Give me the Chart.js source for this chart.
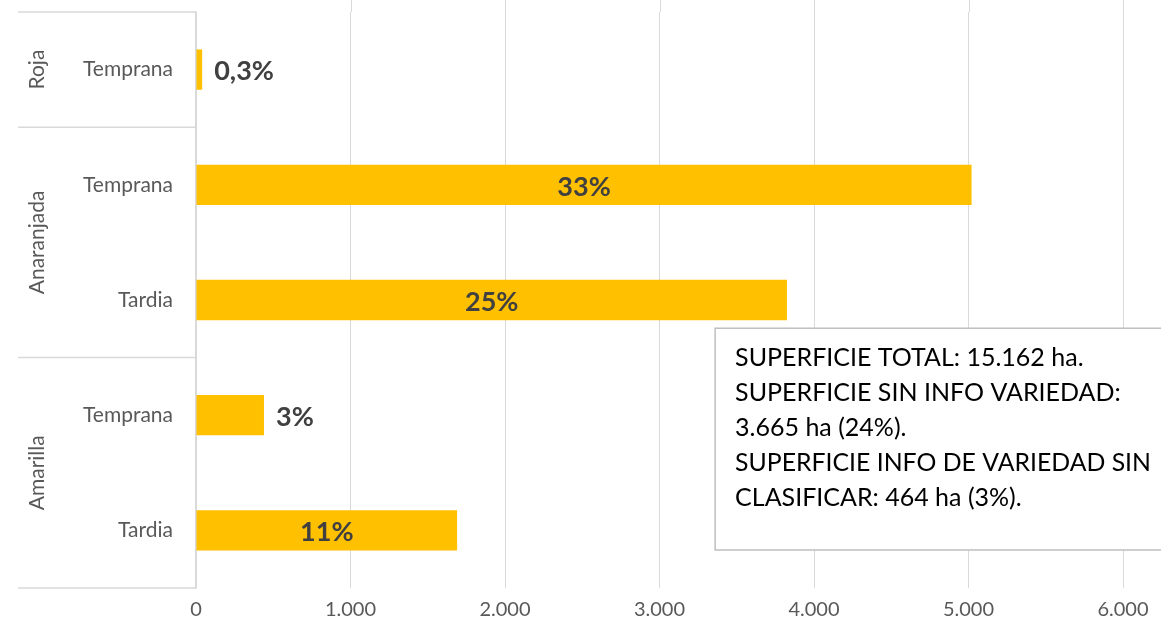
<!DOCTYPE html>
<html><head><meta charset="utf-8">
<script src="https://cdn.jsdelivr.net/npm/chart.js@4/dist/chart.umd.min.js"></script>
<style>html,body{margin:0;padding:0;background:#fff;} #wrap{width:1161px;height:629px;position:relative;}</style>
</head><body><div id="wrap"><canvas id="c"></canvas></div>
<script>
const categories = ["Temprana", "Temprana", "Tardia", "Temprana", "Tardia"];
const groups = ["Roja", "Anaranjada", "Anaranjada", "Amarilla", "Amarilla"];
const superficie = [40, 5020, 3825, 440, 1690];
const percentLabels = ["0,3%", "33%", "25%", "3%", "11%"];
const xMin = 0, xMax = 6000, xStep = 1000;
const noteLines = [
  "SUPERFICIE TOTAL: 15.162 ha.",
  "SUPERFICIE SIN INFO VARIEDAD:",
  "3.665 ha (24%).",
  "SUPERFICIE INFO DE VARIEDAD SIN",
  "CLASIFICAR: 464 ha (3%)."
];

const GRID = '#d9d9d9';
const TXT = '#595959';
const FONT = 'Lato, "Open Sans", sans-serif';

function fmt(v) { return String(v).replace(/\B(?=(\d{3})+(?!\d))/g, '.'); }

const groupAxis = {
  id: 'groupAxis',
  afterDraw(chart) {
    const ctx = chart.ctx, y = chart.scales.y, ca = chart.chartArea;
    const n = categories.length;
    const band = (y.bottom - y.top) / n;
    ctx.save();
    ctx.strokeStyle = GRID; ctx.lineWidth = 1.5;
    let i = 0;
    while (i < n) {
      let j = i;
      while (j + 1 < n && groups[j + 1] === groups[i]) j++;
      const top = y.getPixelForValue(i) - band / 2;
      const bot = y.getPixelForValue(j) + band / 2;
      ctx.beginPath(); ctx.moveTo(18, top); ctx.lineTo(ca.left, top); ctx.stroke();
      if (j === n - 1) { ctx.beginPath(); ctx.moveTo(18, bot); ctx.lineTo(ca.left, bot); ctx.stroke(); }
      ctx.save();
      ctx.translate(37, (top + bot) / 2);
      ctx.rotate(-Math.PI / 2);
      ctx.fillStyle = TXT; ctx.font = '21px ' + FONT;
      ctx.textAlign = 'center'; ctx.textBaseline = 'middle';
      ctx.fillText(groups[i], 0, 0);
      ctx.restore();
      i = j + 1;
    }
    ctx.restore();
  },
  beforeDatasetsDraw(chart) {
    const ctx = chart.ctx, x = chart.scales.x, ca = chart.chartArea;
    ctx.save();
    ctx.strokeStyle = GRID; ctx.lineWidth = 1;
    x.ticks.forEach(t => {
      if (t.value <= xMin) return;
      const px = Math.round(x.getPixelForValue(t.value)) + 0.5;
      ctx.beginPath(); ctx.moveTo(px, 0); ctx.lineTo(px, ca.top); ctx.stroke();
    });
    ctx.restore();
  }
};

const barLabels = {
  id: 'barLabels',
  afterDatasetsDraw(chart) {
    const ctx = chart.ctx;
    const meta = chart.getDatasetMeta(0);
    ctx.save();
    ctx.fillStyle = '#404040';
    ctx.font = 'bold 27px ' + FONT;
    ctx.textBaseline = 'middle';
    meta.data.forEach((el, i) => {
      const w = el.x - el.base;
      if (w > 150) {
        ctx.textAlign = 'center';
        ctx.fillText(percentLabels[i], (el.x + el.base) / 2, el.y + 2);
      } else {
        ctx.textAlign = 'left';
        ctx.fillText(percentLabels[i], el.x + 12, el.y + 2);
      }
    });
    ctx.restore();
  }
};

const noteBox = {
  id: 'noteBox',
  afterDraw(chart) {
    const ctx = chart.ctx, ca = chart.chartArea;
    const left = ca.left + 0.56 * (ca.right - ca.left);
    const top = ca.top + 0.549 * (ca.bottom - ca.top);
    const bottom = ca.top + 0.934 * (ca.bottom - ca.top);
    const right = chart.width + 5;
    ctx.save();
    ctx.fillStyle = '#ffffff';
    ctx.fillRect(left, top, right - left, bottom - top);
    ctx.strokeStyle = '#bfbfbf'; ctx.lineWidth = 1.5;
    ctx.strokeRect(left, top, right - left, bottom - top);
    ctx.fillStyle = '#000000';
    ctx.font = '25px ' + FONT;
    ctx.textAlign = 'left'; ctx.textBaseline = 'alphabetic';
    noteLines.forEach((line, k) => {
      ctx.fillText(line, left + 20, top + 38 + k * 35, chart.width - left - 30);
    });
    ctx.restore();
  }
};

new Chart(document.getElementById('c'), {
  type: 'bar',
  data: {
    labels: categories,
    datasets: [{
      data: superficie,
      backgroundColor: '#FFC000',
      borderWidth: 0,
      barPercentage: 0.35,
      categoryPercentage: 1.0
    }]
  },
  options: {
    indexAxis: 'y',
    responsive: true,
    maintainAspectRatio: false,
    animation: false,
    layout: { padding: { top: 12, right: 38, left: 0, bottom: 0 } },
    plugins: { legend: { display: false }, tooltip: { enabled: false } },
    scales: {
      x: {
        type: 'linear', min: xMin, max: xMax,
        ticks: { stepSize: xStep, callback: v => fmt(v), color: TXT, font: { family: FONT, size: 20 }, padding: 10 },
        grid: { color: GRID, drawTicks: false, lineWidth: 1 },
        border: { display: false },
        afterFit(s) { s.height = 41; s.paddingLeft = 0; s.paddingRight = 0; }
      },
      y: {
        type: 'category',
        ticks: { color: TXT, font: { family: FONT, size: 21 }, padding: 23 },
        grid: { display: false, drawTicks: false },
        border: { display: true, color: GRID, width: 1.5 },
        afterFit(s) { s.width = 196; s.paddingTop = 0; s.paddingBottom = 0; }
      }
    }
  },
  plugins: [groupAxis, barLabels, noteBox]
});
</script>
</body></html>
